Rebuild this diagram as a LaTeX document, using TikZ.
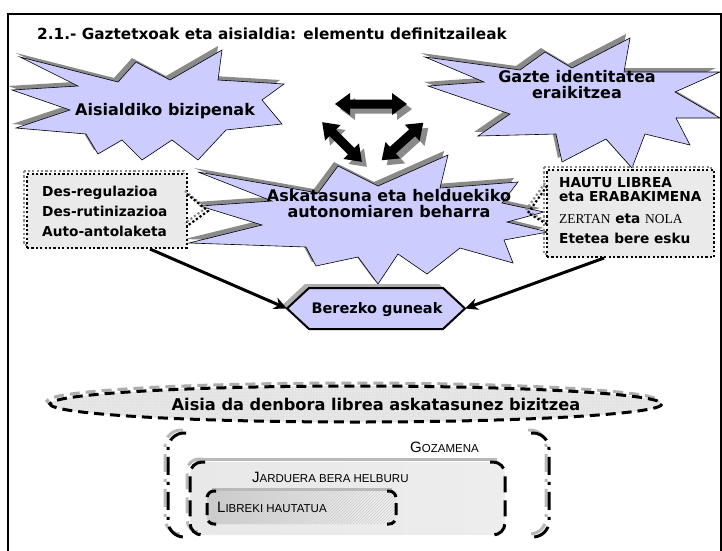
\documentclass[tikz,border=0pt]{standalone}
\usepackage{fontspec}
\setmainfont{DejaVu Sans}
\newfontfamily\timesf{Liberation Serif}
\newfontfamily\scf{Liberation Sans}
\usetikzlibrary{arrows.meta,patterns}
\definecolor{lav}{HTML}{CCCCFF}
\definecolor{shad}{HTML}{8A8A8A}
\definecolor{boxfill}{HTML}{EAEAEA}
\newcommand\fs[1]{\fontsize{#1}{#1}\selectfont}
\newcommand\smc[2]{{\fs{15}#1}{\fs{11.5}#2}}
\newcommand\starL[1]{\path[#1] (20,57) -- (118,82) -- (136,62) -- (170,80) -- (222,50) -- (218,80) -- (284,84) -- (262,100) -- (282,124) -- (226,130) -- (198,160) -- (172,140) -- (142,160) -- (122,140) -- (98,154) -- (86,134) -- (16,128) -- (70,110) -- (12,90) -- (78,86) -- cycle;}
\newcommand\starR[1]{\path[#1] (425,57) -- (520,70) -- (545,52) -- (572,68) -- (630,38) -- (624,72) -- (720,72) -- (675,92) -- (720,118) -- (676,118) -- (690,145) -- (645,134) -- (632,168) -- (606,139) -- (562,162) -- (556,134) -- (478,136) -- (510,114) -- (428,86) -- (484,82) -- cycle;}
\newcommand\starC[1]{\path[#1] (198,172) -- (318,193) -- (338,166) -- (378,186) -- (448,155) -- (440,188) -- (518,182) -- (502,203) -- (544,212) -- (507,222) -- (548,232) -- (504,240) -- (513,263) -- (460,248) -- (427,274) -- (398,254) -- (378,284) -- (358,257) -- (316,266) -- (306,247) -- (189,243) -- (262,225) -- (200,206) -- (272,201) -- cycle;}
\newcommand\dblarr[4]{\path[#4,shift={#1},rotate=#2] (-#3,0) -- (-#3+15,-11) -- (-#3+15,-4.5) -- (#3-15,-4.5) -- (#3-15,-11) -- (#3,0) -- (#3-15,11) -- (#3-15,4.5) -- (-#3+15,4.5) -- (-#3+15,11) -- cycle;}
\newcommand\hexpath[1]{\path[#1] (287,308.5) -- (309,288) -- (443,288) -- (465,308.5) -- (443,329) -- (309,329) -- cycle;}
\begin{document}
\begin{tikzpicture}[x=1pt,y=-1pt,
  startext/.style={font=\bfseries\fs{16}, align=center, inner sep=0pt, anchor=base},
  boxtext/.style={font=\bfseries\fs{13.7}, anchor=base west, inner sep=0pt},
  dotbox/.style={draw=black, fill=boxfill, line width=2.2pt, dash pattern=on 2.2pt off 2.2pt, inner sep=0pt},
  dotshadow/.style={draw=shad, line width=2.2pt, dash pattern=on 2.2pt off 2.2pt},
  dotline/.style={draw=black, line width=2.2pt, dash pattern=on 2.2pt off 2.2pt},
  conn/.style={line width=3pt, -{Stealth[length=13pt,width=12pt]}},
  sctext/.style={font=\scf, anchor=base west, inner sep=0pt},
  gozline/.style={line width=3pt, dash pattern=on 18pt off 7pt on 3pt off 7pt},
  midline/.style={line width=3pt, dash pattern=on 16pt off 8pt},
  innline/.style={line width=3pt, dash pattern=on 12pt off 6pt}
]
\useasboundingbox (0,0) rectangle (722,550);
\fill[white] (0,0) rectangle (722,550);
\draw[line width=1.3pt] (8,570) -- (8,14) -- (721,14) -- (721,570);

\node[anchor=base west, font=\bfseries\fs{15.3}, inner sep=0pt] (title) at (37,39) {2.1.- Gaztetxoak eta aisialdia: elementu definitzaileak};

% stars
\starL{fill=shad, shift={(-4,-4)}}
\starL{fill=lav, draw=black, line width=0.6pt}
\starR{fill=shad, shift={(-4,-4)}}
\starR{fill=lav, draw=black, line width=0.6pt}
\starC{fill=shad, shift={(-4,-4)}}
\starC{fill=lav, draw=black, line width=0.6pt}

\node[startext] (sl) at (165,115) {Aisialdiko bizipenak};
\node[startext] (sr) at (577,98) {Gazte identitatea\\eraikitzea};
\node[startext] (sc) at (389,217) {Askatasuna eta helduekiko\\autonomiaren beharra};

% double arrows
\dblarr{(376,109)}{0}{36}{fill=shad}
\dblarr{(371,104)}{0}{36}{fill=black}
\dblarr{(347,147)}{-45}{28}{fill=shad}
\dblarr{(342,142)}{-45}{28}{fill=black}
\dblarr{(407.5,146.5)}{42}{28}{fill=shad}
\dblarr{(402.5,141.5)}{42}{28}{fill=black}

% boxes
\draw[dotshadow] (24,171) rectangle (184,245);
\node[dotbox, minimum width=160pt, minimum height=74pt] (lbox) at (107,211) {};
\draw[dotshadow] (544,167) rectangle (711,254);
\node[dotbox, minimum width=167pt, minimum height=87pt] (rbox) at (630.5,213.5) {};

\node[boxtext] (t1) at (42,196) {Des-regulazioa};
\node[boxtext] (t2) at (42,216) {Des-rutinizazioa};
\node[boxtext] (t3) at (42,236) {Auto-antolaketa};
\node[boxtext] (r1) at (559,187) {HAUTU LIBREA};
\node[boxtext] (r2) at (559,201) {eta ERABAKIMENA};
\node[boxtext] (r3) at (559,223) {{\mdseries\timesf\fs{13.5}ZERTAN} eta {\mdseries\timesf\fs{13.5}NOLA}};
\node[boxtext] (r4) at (559,243) {Etetea bere esku};

% callouts
\coordinate (lcT) at (187,194); \coordinate (lcP) at (208,211); \coordinate (lcB) at (187,226);
\coordinate (rcT) at (547,186); \coordinate (rcP) at (528,213); \coordinate (rcB) at (547,224);
\draw[dotshadow] ([shift={(-2,-3)}]lcT) -- ([shift={(-2,-3)}]lcP) -- ([shift={(-2,-3)}]lcB);
\draw[dotline] (lcT) -- (lcP) -- (lcB);
\draw[dotshadow] ([shift={(-2,-3)}]rcT) -- ([shift={(-2,-3)}]rcP) -- ([shift={(-2,-3)}]rcB);
\draw[dotline] (rcT) -- (rcP) -- (rcB);

% hexagon
\hexpath{fill=shad!70, shift={(-4,-4)}}
\hexpath{top color=lav, middle color=white, bottom color=lav}
\hexpath{draw=black, line width=2pt}
\node[font=\bfseries\fs{14.5}, anchor=base, inner sep=0pt] (hex) at (377,313) {Berezko guneak};
\coordinate (hexL) at (287,308.5);
\coordinate (hexR) at (465,308.5);
\coordinate (lstart) at (150,249);
\coordinate (rstart) at (604,258);
\draw[conn] (lstart) -- (hexL);
\draw[conn] (rstart) -- (hexR);

% ellipse
\draw[shad!70, line width=3pt, dash pattern=on 10pt off 6pt] (353,401) ellipse [x radius=306, y radius=18];
\path[fill=gray!22] (356,404) ellipse [x radius=306, y radius=18];
\path[pattern=dots, pattern color=white] (356,404) ellipse [x radius=306, y radius=18];
\draw[black, line width=3pt, dash pattern=on 10pt off 6pt] (356,404) ellipse [x radius=306, y radius=18];
\node[font=\bfseries\fs{16.2}, anchor=base, inner sep=0pt] (ell) at (376,410) {Aisia da denbora librea askatasunez bizitzea};

% outer (gozamena)
\draw[gozline, shad!60, rounded corners=16pt] (183,430) -- (165,430) -- (165,534) -- (183,534);
\draw[gozline, shad!60, rounded corners=16pt] (528,430) -- (546,430) -- (546,534) -- (528,534);
\draw[gozline, rounded corners=16pt] (186,433) -- (168,433) -- (168,537) -- (186,537);
\draw[gozline, rounded corners=16pt] (531,433) -- (549,433) -- (549,537) -- (531,537);

% middle rect
\shade[left color=gray!18, middle color=white, right color=gray!14, rounded corners=12pt] (190,462) rectangle (505,535);
\draw[gray!55, line width=3pt] (198,459) -- (497,459);
\draw[midline, shad!60, rounded corners=12pt] (202,459) -- (187,459) -- (187,532) -- (202,532);
\draw[midline, rounded corners=12pt] (205,462) -- (190,462) -- (190,535) -- (205,535);
\draw[midline, rounded corners=12pt] (490,462) -- (505,462) -- (505,535) -- (490,535);

% inner rect
\shade[left color=gray!40, right color=gray!10, rounded corners=7pt] (207,491) rectangle (396,524);
\path[pattern=north east lines, pattern color=white!60!gray, rounded corners=7pt] (207,491) rectangle (396,524);
\draw[gray!55, line width=3pt] (212,489) -- (392,489);
\draw[innline, rounded corners=7pt] (216,491) -- (207,491) -- (207,524) -- (216,524);
\draw[innline, rounded corners=7pt] (387,491) -- (396,491) -- (396,524) -- (387,524);

\node[sctext] (goz) at (410,452) {\smc{G}{OZAMENA}};
\node[sctext] (jar) at (252,482) {\smc{J}{ARDUERA BERA HELBURU}};
\node[sctext] (lib) at (217,512) {\smc{L}{IBREKI HAUTATUA}};
\end{tikzpicture}
\end{document}
